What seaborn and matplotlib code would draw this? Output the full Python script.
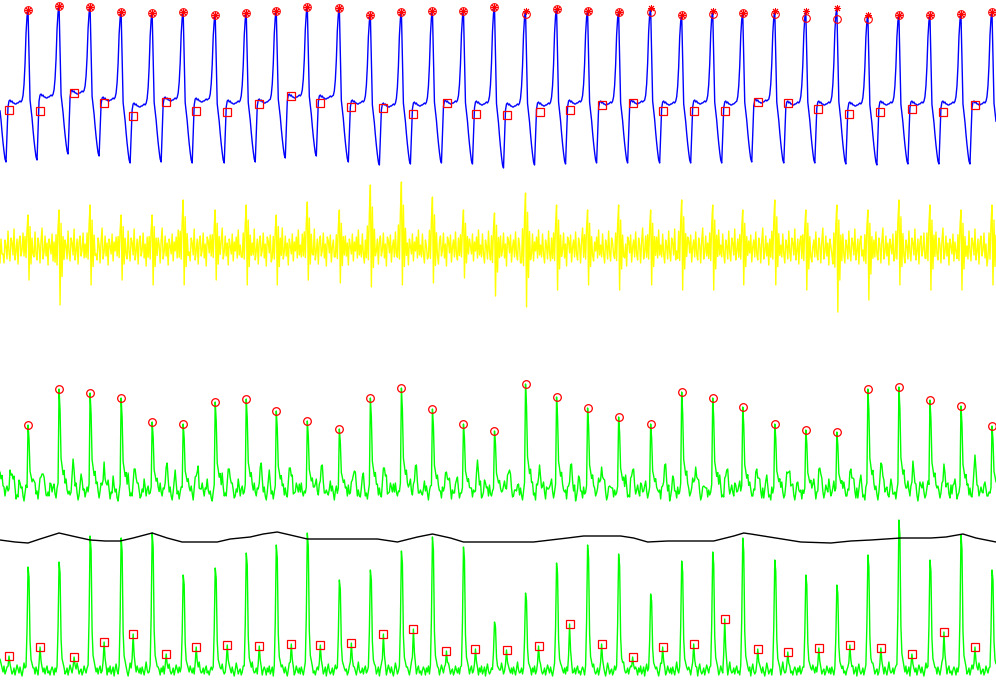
import numpy as np
import matplotlib
matplotlib.use("Agg")
import matplotlib.pyplot as plt
import seaborn as sns

n_samples = 996

# R-peak sample positions (first beat sits just left of the window)
r_peaks = [-3, 28, 59, 90, 121, 152, 183, 215, 246, 276, 307, 339, 370, 401, 432,
           463, 494, 525, 556, 587, 618, 650, 681, 712, 742, 774, 805, 836, 867,
           898, 929, 960, 991]

# --- raw ECG (top trace), per beat, first entry = off-screen beat
ecg_peak = [164, 165, 169, 168, 163, 162, 163, 160, 162, 164, 168, 167, 160, 163, 164, 164, 168,
            164, 166, 164, 163, 167, 160, 164, 162, 164, 164, 167, 160, 160, 160, 161, 163]
ecg_trough = [13, 15, 21, 19, 12, 13, 12, 12, 13, 17, 19, 13, 10, 11, 12, 11,
              7, 10, 11, 12, 12, 12, 12, 12, 13, 12, 12, 11, 10, 11, 11, 11, 11]
ecg_plateau = [72, 78, 82, 75, 69, 75, 74, 72, 73, 78, 77, 72, 69, 70, 72, 71,
               69, 70, 72, 71, 72, 71, 72, 71, 73, 71, 71, 70, 71, 71, 71, 71, 71]
# detected R (circles) on the visible beats
ecg_rdet = [165, 169, 168, 163, 162, 163, 160, 162, 164, 168, 167, 160, 163, 164, 164, 168,
            161, 166, 164, 163, 163, 160, 161, 162, 161, 157, 156, 156, 160, 160, 161, 163]
# S-end markers (squares)
s_pos = [9, 40, 74, 104, 133, 166, 196, 227, 259, 291, 320, 351, 383, 413, 447, 476,
         506, 539, 569, 601, 632, 662, 693, 724, 757, 787, 817, 848, 879, 911, 942, 974]
s_val = [65, 64, 82, 72, 59, 73, 64, 63, 71, 79, 72, 68, 67, 61, 72, 61,
         60, 63, 65, 70, 72, 64, 64, 64, 73, 72, 66, 61, 63, 66, 63, 70]

# beat shape pieces
fall = [0.0, 0.3, 0.6, 0.66, 0.72, 0.8, 0.87, 0.93, 0.98, 1.0]
rise = [0.03, 0.08, 0.2, 0.42, 0.75, 0.93]
ripple = [2, 3, 1, 2, 0, 0, -1, -1, 0, 0, 1, 2, 1, 2]

# --- band-passed trace (yellow)
bp_up = [30, 33, 38, 43, 33, 33, 48, 38, 43, 33, 46, 38, 63, 66, 51, 38, 35,
         55, 43, 38, 43, 38, 48, 43, 38, 48, 38, 43, 38, 48, 43, 38, 43]
bp_dn = [30, 32, 57, 37, 32, 37, 37, 32, 37, 37, 32, 35, 39, 37, 35, 30, 48,
         59, 42, 37, 42, 37, 42, 42, 37, 37, 42, 64, 52, 37, 42, 42, 37]
bp_burst = [-0.25, 0.35, -0.3, 0.55, 1.0, -1.0, 0.65, -0.5, 0.3, -0.2]
bp_bg = [3, -9, 14, -6, -15, 8, 2, -11, 17, -4, -13, 10, 5, -7, 19, -12, -3, 9, -16, 6,
         12, -8, -2, 15, -10, 4, -18, 11, 7, -5, 13, -14, 1, 8, -9, 16, -6, -12, 10, 3,
         -15, 7, 20, -11, -4, 12, -8, 5, -17, 9, 2, -6, 14, -13, 6, -3, 11, -10, 18, -7]

# --- integrated trace with R detections (green, 3rd panel)
mw_base = 14
mw_peak = [100, 85, 121, 117, 112, 88, 86, 108, 111, 99, 89, 81, 112, 122, 101, 86, 79,
           126, 113, 102, 93, 86, 118, 112, 103, 86, 80, 78, 121, 123, 110, 104, 84]
mw_spike = [0.04, 0.12, 1.0, 0.8, 0.35, 0.28, 0.2, 0.24, 0.12, 0.06]
mw_wave = [8, 4, 2, 0, 3, 9, 18, 26, 22, 13, 7, 3, 0, 0, 3, 7, 11, 8, 4, 2]
mw_bg = [0, 4, -3, 6, 1, -4, 5, 10, 2, -2, 8, -5, 0, 4, 13, 6, -3, 1, -4, 9, 2, 0, 5, -2,
         -5, 3, 11, 4, -3, 6, 0, -4, 1, 8, 15, 5, -2, 3, -3, 4, 9, 1, -4, 0, 6, 3, -2]

# --- bottom trace with noise peaks + threshold
sq_base = 12
sq_peak = [120, 117, 122, 148, 146, 151, 109, 116, 131, 139, 151, 104, 114, 133, 147, 137, 62,
           91, 121, 139, 130, 90, 123, 132, 146, 124, 109, 99, 129, 164, 124, 149, 114]
nz_pos = [9, 40, 74, 104, 133, 166, 196, 227, 259, 291, 320, 351, 383, 413, 446, 475,
          506, 538, 569, 601, 632, 662, 693, 724, 757, 787, 818, 849, 880, 911, 943, 974]
nz_val = [28, 37, 27, 42, 50, 30, 37, 39, 38, 40, 39, 41, 50, 55, 33, 35,
          34, 38, 60, 40, 27, 37, 40, 65, 35, 32, 36, 39, 36, 30, 52, 37]
sq_spike = [0.05, 0.4, 1.0, 0.9, 0.3, 0.12, 0.08, 0.04]
nz_spike = [0.35, 1.0, 0.45, 0.2]
sq_bg = [2, -3, 4, 0, 6, -2, 1, 5, -4, 3, 8, 1, -2, 0, 4, -3, 2, 7, 3, -1, 5, 0, -4, 2, 9,
         4, -2, 1, 3, -3, 0, 6, 2, -1, 4, -2, 5, 1, -3, 3, 10, 2, -1, 0, 4, -2, 3, 6, -1, 1,
         -3, 2, 5]
thr_x = [0, 15, 28, 40, 59, 72, 90, 105, 120, 133, 152, 167, 182, 217, 230, 250, 263, 277,
         290, 307, 337, 377, 397, 417, 432, 450, 463, 500, 533, 550, 567, 583, 620, 633,
         647, 667, 713, 733, 743, 750, 775, 800, 830, 850, 870, 900, 930, 945, 962, 975, 995]
thr_v = [144, 142, 141, 145, 151, 148, 144, 143, 143, 146, 151, 146, 142, 142, 145, 147, 150,
         152, 149, 145, 145, 145, 142, 147, 150, 146, 142, 142, 142, 144, 146, 148, 148, 146,
         142, 143, 143, 148, 151, 150, 146, 142, 141, 143, 144, 146, 146, 147, 150, 146, 142]

t = np.arange(n_samples)

# build the ECG
ecg = np.zeros(n_samples)
for k, r in enumerate(r_peaks):
    r_next = r_peaks[k + 1] if k + 1 < len(r_peaks) else r + 31
    p_next = ecg_peak[k + 1] if k + 1 < len(r_peaks) else ecg_peak[k]
    pk, tr, pl = ecg_peak[k], ecg_trough[k], ecg_plateau[k]
    length = r_next - r
    for j in range(length):
        if j <= 9:
            val = pk + fall[j] * (tr - pk)
        elif j == 10:
            val = tr + 0.45 * (pl - tr)
        elif j == 11:
            val = pl - 4
        elif j < length - 6:
            val = pl + ripple[j - 12]
        else:
            val = pl + rise[j - (length - 6)] * (p_next - pl)
        i = r + j
        if 0 <= i < n_samples:
            ecg[i] = val

# band-passed
bp = np.array([bp_bg[i % len(bp_bg)] for i in t], dtype=float)
for k, r in enumerate(r_peaks):
    for j, s in enumerate(bp_burst):
        i = r - 4 + j
        if 0 <= i < n_samples:
            bp[i] = s * (bp_up[k] if s > 0 else bp_dn[k])

# integrated
mw = np.array([mw_base + mw_bg[i % len(mw_bg)] for i in t], dtype=float)
for k, r in enumerate(r_peaks):
    for j, w in enumerate(mw_wave):
        i = r + 7 + j
        if 0 <= i < n_samples:
            mw[i] += w
for k, r in enumerate(r_peaks):
    for j, s in enumerate(mw_spike):
        i = r - 2 + j
        if 0 <= i < n_samples:
            mw[i] = max(mw[i], mw_base + s * (mw_peak[k] - mw_base))

# bottom trace
sq = np.array([sq_base + sq_bg[i % len(sq_bg)] for i in t], dtype=float)
for k, r in enumerate(r_peaks):
    for j, s in enumerate(sq_spike):
        i = r - 2 + j
        if 0 <= i < n_samples:
            sq[i] = max(sq[i], sq_base + s * (sq_peak[k] - sq_base))
for p, v in zip(nz_pos, nz_val):
    for j, s in enumerate(nz_spike):
        i = p - 1 + j
        if 0 <= i < n_samples:
            sq[i] = max(sq[i], sq_base + s * (v - sq_base))

sns.set_style("white")
fig = plt.figure(figsize=(9.96, 6.84), dpi=100)
H = 684.0

def band(top, bottom):
    return fig.add_axes([0, 1 - bottom / H, 1, (bottom - top) / H])

axA = band(0, 175)
axB = band(175, 325)
axC = band(370, 510)
axD = band(510, 684)

r_vis = r_peaks[1:]

sns.lineplot(x=t, y=ecg, ax=axA, color="#0000ff", linewidth=1.0, estimator=None)
axA.plot(r_vis, ecg_rdet, linestyle="none", marker="o", ms=5.5, mfc="none",
         mec="#ff0000", mew=0.8, clip_on=False)
axA.plot(r_vis, ecg_peak[1:], linestyle="none", marker=(8, 2, 0), ms=5,
         color="#ff0000", mew=0.7, clip_on=False)
axA.plot(s_pos, s_val, linestyle="none", marker="s", ms=6, mfc="none",
         mec="#ff0000", mew=0.9, clip_on=False)
axA.set_ylim(0, 175)

sns.lineplot(x=t, y=bp, ax=axB, color="#ffff00", linewidth=1.0, estimator=None)
axB.set_ylim(-77, 73)

sns.lineplot(x=t, y=mw, ax=axC, color="#00ff00", linewidth=1.0, estimator=None)
axC.plot(r_vis, mw_peak[1:], linestyle="none", marker="o", ms=5.5, mfc="none",
         mec="#ff0000", mew=0.9, clip_on=False)
axC.set_ylim(0, 140)

sns.lineplot(x=t, y=sq, ax=axD, color="#00ff00", linewidth=1.0, estimator=None)
sns.lineplot(x=thr_x, y=thr_v, ax=axD, color="black", linewidth=1.0, estimator=None)
axD.plot(nz_pos, nz_val, linestyle="none", marker="s", ms=6, mfc="none",
         mec="#ff0000", mew=0.9, clip_on=False)
axD.set_ylim(0, 174)

for ax in (axA, axB, axC, axD):
    ax.set_xlim(0, n_samples - 1)
    ax.axis("off")
    ax.patch.set_alpha(0)

fig.savefig("out.png", dpi=100, facecolor="white")
